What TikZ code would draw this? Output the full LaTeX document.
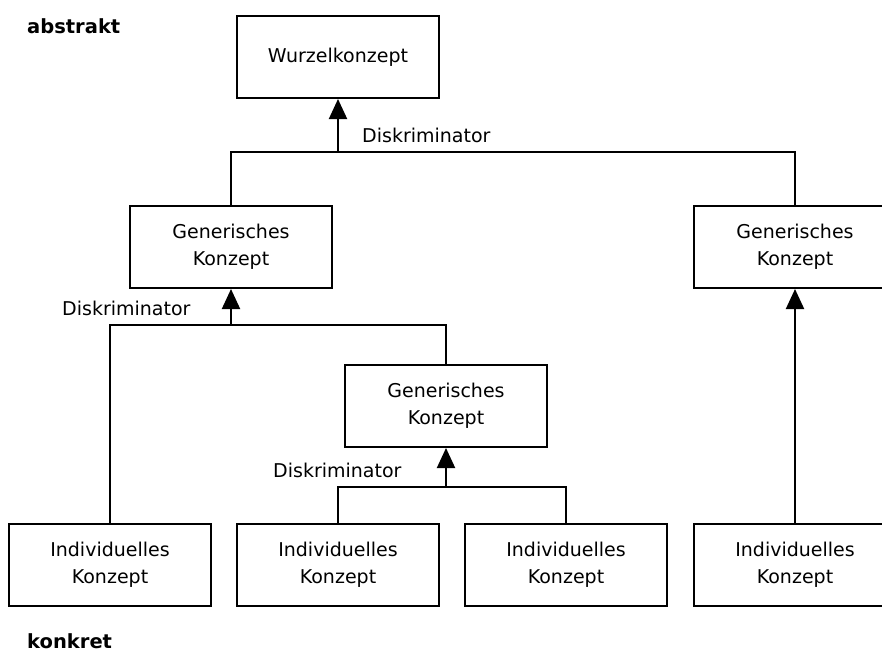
\documentclass[tikz,border=0pt]{standalone}
\usepackage{fontspec}
\setmainfont{DejaVu Sans}
\usetikzlibrary{arrows.meta}
\begin{document}
\begin{tikzpicture}[x=1pt,y=-1pt,
  concept/.style={draw,line width=2pt,minimum width=202pt,minimum height=82pt,
    inner sep=0pt,align=center,font=\fontsize{19}{27}\selectfont},
  link/.style={line width=2pt},
  arr/.style={line width=2pt,-{Triangle[width=18pt,length=20pt]}},
  lbl/.style={anchor=base west,inner sep=0pt,font=\fontsize{19}{22}\selectfont},
  level/.style={anchor=base west,inner sep=0pt,font=\fontsize{19.5}{22}\selectfont\bfseries}]
\useasboundingbox (0,0) rectangle (882,651);

% concept boxes
\node[concept] (root) at (338,57) {Wurzelkonzept};
\node[concept] (g1) at (231,247) {Generisches\\Konzept};
\node[concept] (g2) at (795,247) {Generisches\\Konzept};
\node[concept] (g3) at (446,406) {Generisches\\Konzept};
\node[concept] (i1) at (110,565) {Individuelles\\Konzept};
\node[concept] (i2) at (338,565) {Individuelles\\Konzept};
\node[concept] (i3) at (566,565) {Individuelles\\Konzept};
\node[concept] (i4) at (795,565) {Individuelles\\Konzept};

% junctions of the discriminator bars
\coordinate (j1) at (root.south |- 0,152);
\coordinate (j2) at (g1.south |- 0,325);
\coordinate (j3) at (g3.south |- 0,487);

% root level
\draw[link] (g1.north) |- (j1) -| (g2.north);
\draw[arr] (j1) -- (root.south);
\node[lbl] (d1) at (362,142) {Diskriminator};

% left generic concept
\draw[link] (i1.north) |- (j2) -| (g3.north);
\draw[arr] (j2) -- (g1.south);
\node[lbl] (d2) at (62,315) {Diskriminator};

% middle generic concept
\draw[link] (i2.north) |- (j3) -| (i3.north);
\draw[arr] (j3) -- (g3.south);
\node[lbl] (d3) at (273,477) {Diskriminator};

% right branch
\draw[arr] (i4.north) -- (g2.south);

% level captions
\node[level] (abs) at (27,33) {abstrakt};
\node[level] (kon) at (27,648) {konkret};
\end{tikzpicture}
\end{document}
